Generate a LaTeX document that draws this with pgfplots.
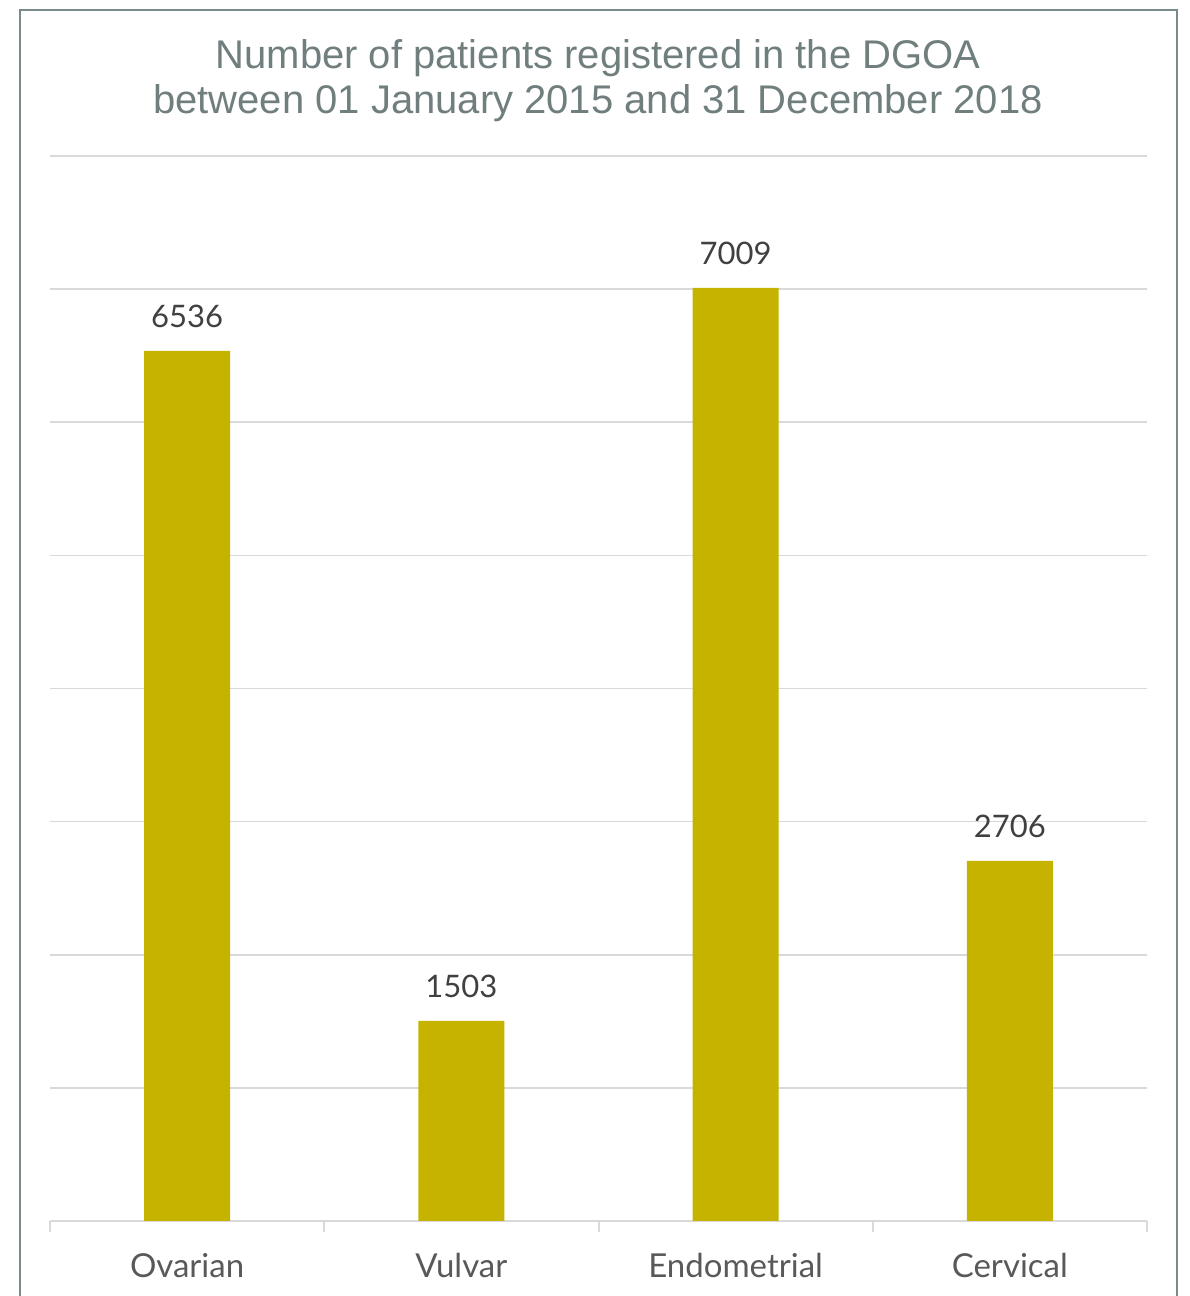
\documentclass[border=0pt]{standalone}
\usepackage{pgfplots}
\pgfplotsset{compat=1.18}
\usepackage{fontspec}
\setmainfont{Lato}
\newfontfamily\titlefont{Liberation Sans}
\definecolor{barc}{RGB}{197,179,0}
\definecolor{titlec}{RGB}{112,126,126}
\definecolor{labc}{RGB}{89,89,89}
\definecolor{numc}{RGB}{64,64,64}
\definecolor{gridc}{RGB}{217,217,217}
\definecolor{framec}{RGB}{122,138,138}
\begin{document}
\begin{tikzpicture}
\useasboundingbox (0,0) rectangle (594.5pt,648pt);
\draw[framec,line width=1pt] (10pt,0pt) -- (10pt,643pt) -- (588.5pt,643pt) -- (588.5pt,0pt);
\node[align=center,text=titlec,font=\titlefont\fontsize{20}{22.5}\selectfont] at (299pt,607.5pt) {Number of patients registered in the DGOA\\between 01 January 2015 and 31 December 2018};
\begin{axis}[
  at={(25pt,37.5pt)}, anchor=south west,
  scale only axis, width=548.5pt, height=532.5pt,
  xmin=-0.5, xmax=3.5, ymin=0, ymax=8000,
  axis x line*=bottom, axis y line*=left,
  x axis line style={draw=gridc,line width=1pt},
  y axis line style={draw=none},
  ytick={0,1000,...,8000}, yticklabels={},
  ymajorgrids, grid style={gridc,line width=0.8pt},
  major y tick style={draw=none},
  xtick={0,1,2,3}, xticklabels={Ovarian,Vulvar,Endometrial,Cervical},
  major x tick style={draw=none},
  minor xtick={-0.5,0.5,1.5,2.5,3.5},
  minor tick length=5.5pt, tick align=outside,
  minor x tick style={draw=gridc,line width=1pt},
  xticklabel style={font=\fontsize{16.5}{18}\selectfont,text=labc,yshift=-8.5pt},
  ybar, bar width=43pt,
  nodes near coords,
  nodes near coords style={font=\fontsize{15.5}{18}\selectfont,text=numc,anchor=south,yshift=8pt,
    /pgf/number format/.cd,fixed,1000 sep={},assume math mode=true},
  clip=false,
]
\addplot[fill=barc,draw=none] coordinates {(0,6536) (1,1503) (2,7009) (3,2706)};
\end{axis}
\end{tikzpicture}
\end{document}
